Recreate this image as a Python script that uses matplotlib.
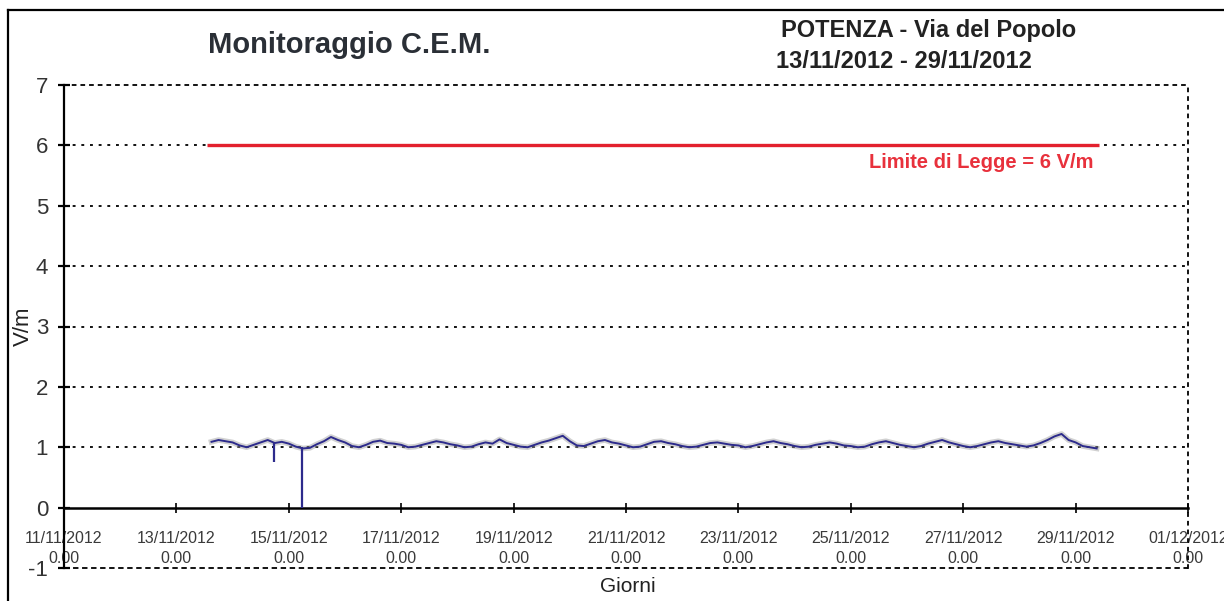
import matplotlib
matplotlib.use("Agg")
import matplotlib.pyplot as plt
import matplotlib.dates as mdates
import pandas as pd
import numpy as np
from matplotlib.lines import Line2D

plt.rcParams['font.family'] = ['Liberation Sans', 'DejaVu Sans']

# ---------------- data ----------------
title_left = "Monitoraggio C.E.M."
title_right_1 = "POTENZA - Via del Popolo"
title_right_2 = "13/11/2012 - 29/11/2012"
limit_label = "Limite di Legge = 6 V/m"
y_label = "V/m"
x_label = "Giorni"

limit_value = 6.0
limit_start = "2012-11-13 13:00"
limit_end = "2012-11-29 10:00"

series_start = "2012-11-13 15:00"
series_step = "3h"
# 3-hourly field values (V/m)
vm_values = [
    1.09, 1.12, 1.10,                                   # 13/11 15-21h
    1.08, 1.03, 1.00, 1.04, 1.08, 1.12, 1.07, 1.09,     # 14/11
    1.06, 1.01, 0.98, 0.99, 1.05, 1.10, 1.17, 1.12,     # 15/11
    1.08, 1.02, 1.00, 1.04, 1.09, 1.11, 1.07, 1.06,     # 16/11
    1.04, 1.00, 1.01, 1.04, 1.07, 1.10, 1.08, 1.05,     # 17/11
    1.03, 1.00, 1.01, 1.05, 1.08, 1.06, 1.13, 1.07,     # 18/11
    1.04, 1.01, 1.00, 1.04, 1.08, 1.11, 1.15, 1.19,     # 19/11
    1.10, 1.03, 1.02, 1.06, 1.10, 1.12, 1.08, 1.06,     # 20/11
    1.03, 1.00, 1.01, 1.05, 1.09, 1.10, 1.07, 1.05,     # 21/11
    1.02, 1.00, 1.01, 1.04, 1.07, 1.08, 1.06, 1.04,     # 22/11
    1.03, 1.00, 1.02, 1.05, 1.08, 1.10, 1.07, 1.05,     # 23/11
    1.02, 1.00, 1.01, 1.04, 1.06, 1.08, 1.06, 1.03,     # 24/11
    1.02, 1.00, 1.01, 1.05, 1.08, 1.10, 1.07, 1.04,     # 25/11
    1.02, 1.00, 1.02, 1.06, 1.09, 1.12, 1.08, 1.05,     # 26/11
    1.02, 1.00, 1.02, 1.05, 1.08, 1.10, 1.07, 1.05,     # 27/11
    1.03, 1.01, 1.03, 1.07, 1.12, 1.18, 1.22, 1.12,     # 28/11
    1.08, 1.02, 1.00, 0.98,                             # 29/11 0-9h
]
# short drops in the record
drop_times = ["2012-11-14 17:40", "2012-11-15 05:40"]
drop_low = [0.75, 0.0]
drop_high = [1.07, 1.00]

x_start = "2012-11-11"
x_end = "2012-12-01"
tick_dates = ["2012-11-11", "2012-11-13", "2012-11-15", "2012-11-17", "2012-11-19",
              "2012-11-21", "2012-11-23", "2012-11-25", "2012-11-27", "2012-11-29",
              "2012-12-01"]
y_ticks = [-1, 0, 1, 2, 3, 4, 5, 6, 7]

# ---------------- figure ----------------
W, H = 1224, 601
fig = plt.figure(figsize=(W / 100, H / 100), dpi=100)
fig.patch.set_facecolor("white")

# outer frame of the scanned chart
fig.add_artist(Line2D([8 / W, 8 / W], [0, 1 - 10 / H], transform=fig.transFigure,
                      color="black", lw=1.6))
fig.add_artist(Line2D([8 / W, 1], [1 - 10 / H, 1 - 10 / H], transform=fig.transFigure,
                      color="black", lw=1.6))

left, right, top, bottom = 64 / W, 1188 / W, 1 - 85 / H, 1 - 568 / H
ax = fig.add_axes([left, bottom, right - left, top - bottom])

times = pd.date_range(series_start, periods=len(vm_values), freq=series_step)
x0, x1 = mdates.date2num(pd.Timestamp(x_start)), mdates.date2num(pd.Timestamp(x_end))
ax.set_xlim(x0, x1)
ax.set_ylim(-1, 7)

dot = (0, (1.6, 3.2))
for yv in [1, 2, 3, 4, 5, 6]:
    ax.axhline(yv, color="black", lw=1.3, ls=dot, zorder=1)
ax.axhline(-1, color="black", lw=1.3, ls=(0, (3, 2)), zorder=1, clip_on=False)

# limit line
ax.plot([pd.Timestamp(limit_start), pd.Timestamp(limit_end)], [limit_value, limit_value],
        color="#e3212e", lw=2.4, solid_capstyle="butt", zorder=3)
ax.text(pd.Timestamp("2012-11-29 07:30"), 5.72, limit_label, color="#e8313c",
        fontsize=14.5, fontweight="bold", ha="right", va="center")

# series: grey halo + navy line
ax.plot(times, vm_values, color="#9a9a9a", lw=4.0, alpha=0.45, zorder=3)
ax.plot(times, vm_values, color="#2d2b8c", lw=1.4, zorder=4)
ax.vlines(pd.to_datetime(drop_times), drop_low, drop_high, color="#2d2b8c", lw=1.6, zorder=4)

# spines
ax.spines["left"].set_color("black")
ax.spines["left"].set_linewidth(1.6)
ax.spines["bottom"].set_position(("data", 0))
ax.spines["bottom"].set_linewidth(1.8)
ax.spines["top"].set_linestyle(dot)
ax.spines["top"].set_linewidth(1.3)
ax.spines["right"].set_linestyle(dot)
ax.spines["right"].set_linewidth(1.3)

ax.set_yticks(y_ticks)
ax.set_yticklabels([str(v) for v in y_ticks], fontsize=16, color="#333333")
ax.tick_params(axis="y", direction="inout", length=9, width=1.6, pad=7)

ax.set_xticks([mdates.date2num(pd.Timestamp(d)) for d in tick_dates])
ax.set_xticklabels([pd.Timestamp(d).strftime("%d/%m/%Y") + "\n0.00" for d in tick_dates],
                   fontsize=11.5, color="#3a3a3a", linespacing=1.45)
ax.tick_params(axis="x", direction="inout", length=7, width=1.2, pad=13)

ax.set_ylabel(y_label, fontsize=16, color="#222222", labelpad=0)
ax.yaxis.set_label_coords(-0.027, 0.50)
fig.text(628 / W, 1 - 586 / H, x_label, fontsize=15, color="#222222", ha="center", va="center")

fig.text(349 / W, 1 - 45 / H, title_left, fontsize=21, fontweight="bold",
         color="#2a2f36", ha="center", va="center")
fig.text(929 / W, 1 - 31 / H, title_right_1, fontsize=17, fontweight="bold",
         color="#222222", ha="center", va="center")
fig.text(904 / W, 1 - 62 / H, title_right_2, fontsize=17, fontweight="bold",
         color="#222222", ha="center", va="center")

fig.savefig("out.png", dpi=100, facecolor="white")
